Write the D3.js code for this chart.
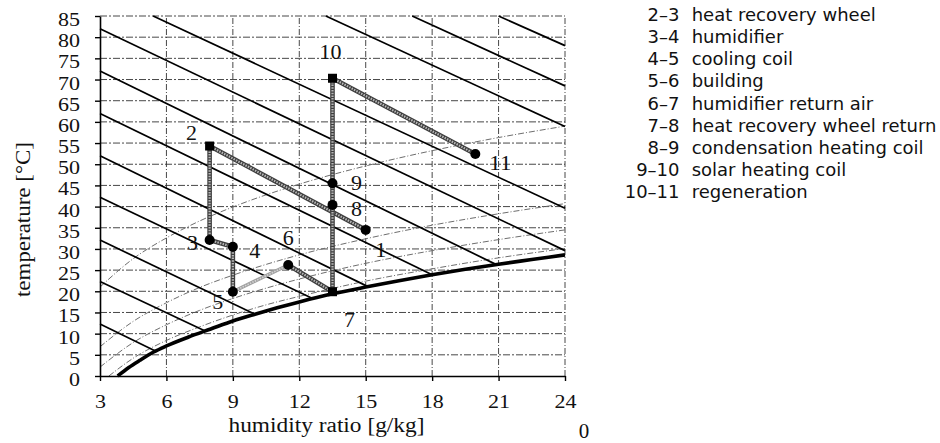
<html>
<head>
<meta charset="utf-8">
<title>Psychrometric chart</title>
<style type="text/css">
body { margin: 0; background: #ffffff; }
</style>
</head>
<body>
<div id="chart"></div>
<script src="https://d3js.org/d3.v7.min.js"></script>
<script>

// axis ticks
const xTicks = [3, 6, 9, 12, 15, 18, 21, 24];
const yTicks = [0, 5, 10, 15, 20, 25, 30, 35, 40, 45, 50, 55, 60, 65, 70, 75, 80, 85];

// saturation curve (humidity ratio g/kg, temperature C)
const satW = [3.8, 4.3, 4.8, 5.4, 6.0, 7.0, 8.0, 9.0, 10.0, 11.0, 12.0, 13.5, 15.0, 16.5, 18.0, 19.5, 21.0, 22.5, 24.0];
const satT = [0, 2.0, 3.7, 5.6, 7.1, 9.2, 11.1, 13.0, 14.6, 16.1, 17.5, 19.4, 21.0, 22.5, 23.9, 25.2, 26.4, 27.5, 28.6];

// relative humidity curves
const rh20W = [3, 4.5, 6, 7.5, 9, 12, 15, 18, 21, 24];
const rh20T = [21.0, 27.7, 32.6, 36.6, 39.9, 45.3, 49.6, 53.2, 56.3, 59.0];
const rh50W = [3, 4.5, 6, 7.5, 9, 12, 15, 18, 21, 24];
const rh50T = [6.9, 12.9, 17.3, 20.9, 23.8, 28.6, 32.4, 35.6, 38.3, 40.7];
const rh70W = [3, 4.5, 6, 7.5, 9, 12, 15, 18, 21, 24];
const rh70T = [2.1, 7.9, 12.1, 15.5, 18.3, 22.9, 26.6, 29.6, 32.2, 34.5];
const rh90W = [3.4, 4.5, 6, 7.5, 9, 10.5, 12, 15, 18, 21, 24];
const rh90T = [0, 4.2, 8.4, 11.6, 14.4, 16.8, 18.8, 22.4, 25.3, 27.9, 30.1];

// constant enthalpy lines (start / end points)
const enthW0 = [3, 3, 3, 3, 3, 3, 3, 3, 5.4, 13.2, 17.1, 21.0];
const enthT0 = [12.3, 22.3, 32.1, 42.2, 52.0, 62.0, 72.0, 82.0, 85, 85, 85, 85];
const enthW1 = [5.5, 7.75, 10.0, 12.6, 15.1, 18.0, 20.9, 24, 24, 24, 24, 24];
const enthT1 = [5.9, 10.6, 14.6, 18.3, 21.1, 23.9, 26.3, 29.6, 39.6, 58.9, 68.5, 78.0];

// state points of the cycle
const pointIds = ["1", "2", "3", "4", "5", "6", "7", "8", "9", "10", "11"];
const pointW = [15.0, 7.95, 7.95, 9.0, 9.0, 11.5, 13.5, 13.5, 13.5, 13.5, 19.95];
const pointT = [34.5, 54.3, 32.1, 30.5, 19.9, 26.2, 19.9, 40.4, 45.5, 70.3, 52.4];

// legend
const legendPairs = ["2–3", "3–4", "4–5", "5–6", "6–7", "7–8", "8–9", "9–10", "10–11"];
const legendNames = ["heat recovery wheel", "humidifier", "cooling coil", "building",
  "humidifier return air", "heat recovery wheel return", "condensation heating coil",
  "solar heating coil", "regeneration"];

// layout
const width = 940, height = 443;
const plot = {left: 100, right: 565, top: 16, bottom: 376};
const serif = '"Liberation Serif", "DejaVu Serif", serif';
const sans = '"DejaVu Sans", "Open Sans", sans-serif';

const svg = d3.select("#chart")
  .append("svg")
    .attr("width", width)
    .attr("height", height);

svg.append("rect")
  .attr("width", width)
  .attr("height", height)
  .attr("fill", "#fff");

const x = d3.scaleLinear().domain([3, 24]).range([plot.left, plot.right]);
const y = d3.scaleLinear().domain([0, 85]).range([plot.bottom, plot.top]);

// grid
svg.append("g")
  .selectAll("line")
  .data(xTicks.slice(1))
  .join("line")
    .attr("x1", d => x(d)).attr("x2", d => x(d))
    .attr("y1", y(0)).attr("y2", y(85))
    .attr("stroke", "#333").attr("stroke-width", 0.9)
    .attr("stroke-dasharray", "6,2,1,2");

svg.append("g")
  .selectAll("line")
  .data(yTicks.slice(1))
  .join("line")
    .attr("x1", x(3)).attr("x2", x(24))
    .attr("y1", d => y(d)).attr("y2", d => y(d))
    .attr("stroke", "#333").attr("stroke-width", 0.9)
    .attr("stroke-dasharray", "7,2,2,2");

// relative humidity curves
const curve = d3.line()
  .x(d => x(d[0]))
  .y(d => y(d[1]))
  .curve(d3.curveMonotoneX);

const rhCurves = [[rh20W, rh20T], [rh50W, rh50T], [rh70W, rh70T], [rh90W, rh90T]]
  .map(c => c[0].map((w, i) => [w, c[1][i]]));

svg.append("g")
  .selectAll("path")
  .data(rhCurves)
  .join("path")
    .attr("d", curve)
    .attr("fill", "none")
    .attr("stroke", "#6e6e6e")
    .attr("stroke-width", 1)
    .attr("stroke-dasharray", "6,2,1,2");

// enthalpy lines
svg.append("g")
  .selectAll("line")
  .data(enthW0)
  .join("line")
    .attr("x1", (d, i) => x(enthW0[i]))
    .attr("y1", (d, i) => y(enthT0[i]))
    .attr("x2", (d, i) => x(enthW1[i]))
    .attr("y2", (d, i) => y(enthT1[i]))
    .attr("stroke", "#000")
    .attr("stroke-width", 1.7);

// saturation curve
svg.append("path")
  .datum(satW.map((w, i) => [w, satT[i]]))
  .attr("d", curve)
  .attr("fill", "none")
  .attr("stroke", "#000")
  .attr("stroke-width", 3.6);

// axes
const yAxis = svg.append("g")
  .attr("transform", `translate(${plot.left},0)`)
  .call(d3.axisLeft(y).tickValues(yTicks).tickSize(5).tickPadding(15).tickSizeOuter(0));
const xAxis = svg.append("g")
  .attr("transform", `translate(0,${plot.bottom})`)
  .call(d3.axisBottom(x).tickValues(xTicks).tickSize(5).tickPadding(15).tickSizeOuter(0));

[xAxis, yAxis].forEach(a => {
  a.attr("font-family", null).attr("font-size", null);
  a.select(".domain").attr("stroke", "#000").attr("stroke-width", 1.6);
  a.selectAll(".tick line").attr("stroke", "#000").attr("stroke-width", 1.4);
  // the scanned labels are wider than a plain 19px serif, stretch them a little
  a.selectAll(".tick text")
    .style("font-family", serif)
    .style("font-size", "19px")
    .attr("textLength", d => String(d).length * 11)
    .attr("lengthAdjust", "spacingAndGlyphs")
    .attr("fill", "#111");
});
yAxis.selectAll(".tick text").attr("dy", "0.5em");
xAxis.selectAll(".tick text").attr("dy", "0.62em");

// axis titles
svg.append("text")
  .attr("x", 326.5)
  .attr("y", 431.5)
  .attr("text-anchor", "middle")
  .attr("textLength", 196)
  .attr("lengthAdjust", "spacingAndGlyphs")
  .style("font-family", serif)
  .style("font-size", "20px")
  .attr("fill", "#111")
  .text("humidity ratio [g/kg]");

svg.append("text")
  .attr("transform", "translate(30,219.5) rotate(-90)")
  .attr("text-anchor", "middle")
  .attr("textLength", 155)
  .attr("lengthAdjust", "spacingAndGlyphs")
  .style("font-family", serif)
  .style("font-size", "21px")
  .attr("fill", "#111")
  .text("temperature [°C]");

svg.append("text")
  .attr("x", 584)
  .attr("y", 438)
  .attr("text-anchor", "middle")
  .style("font-family", serif)
  .style("font-size", "21px")
  .attr("fill", "#111")
  .text("0");

// process lines
const px = id => x(pointW[pointIds.indexOf(id)]);
const py = id => y(pointT[pointIds.indexOf(id)]);
const segments = pointIds.slice(0, -1).map((id, i) => [id, pointIds[i + 1]]);

const segG = svg.append("g");
segments.forEach(s => {
  const light = s[0] === "5";
  segG.append("line")
    .attr("x1", px(s[0])).attr("y1", py(s[0]))
    .attr("x2", px(s[1])).attr("y2", py(s[1]))
    .attr("stroke", light ? "#a0a0a0" : "#3e3e3e")
    .attr("stroke-width", light ? 3.5 : 4.6);
  segG.append("line")
    .attr("x1", px(s[0])).attr("y1", py(s[0]))
    .attr("x2", px(s[1])).attr("y2", py(s[1]))
    .attr("stroke", light ? "#d4d4d4" : "#b8b8b8")
    .attr("stroke-width", light ? 1.6 : 2.2)
    .attr("stroke-dasharray", "1.5,1.2");
});

// markers
const squares = ["2", "7", "10"];
svg.append("g")
  .selectAll("circle")
  .data(pointIds.filter(id => !squares.includes(id)))
  .join("circle")
    .attr("cx", d => px(d))
    .attr("cy", d => py(d))
    .attr("r", 5)
    .attr("fill", "#000");
svg.append("g")
  .selectAll("rect")
  .data(squares)
  .join("rect")
    .attr("x", d => px(d) - 4.5)
    .attr("y", d => py(d) - 4.5)
    .attr("width", 9)
    .attr("height", 9)
    .attr("fill", "#000");

// point labels
const labelOffset = {"1": [15, 20], "2": [-18, -13], "3": [-17, 3], "4": [22, 4], "5": [-15, 10],
  "6": [0, -27], "7": [17, 28], "8": [24, 4], "9": [24, 0], "10": [-2, -26], "11": [25, 9]};
svg.append("g")
  .selectAll("text")
  .data(pointIds)
  .join("text")
    .attr("x", d => px(d) + labelOffset[d][0])
    .attr("y", d => py(d) + labelOffset[d][1])
    .attr("dy", "0.35em")
    .attr("text-anchor", "middle")
    .attr("textLength", d => d.length * 11)
    .attr("lengthAdjust", "spacingAndGlyphs")
    .style("font-family", serif)
    .style("font-size", "20px")
    .attr("fill", "#111")
    .text(d => d);

// legend
const legend = svg.append("g");
legend.selectAll("text.pair")
  .data(legendPairs)
  .join("text")
    .attr("class", "pair")
    .attr("x", 679.5)
    .attr("y", (d, i) => 20.7 + i * 22.2)
    .attr("text-anchor", "end")
    .style("font-family", sans)
    .style("font-size", "18px")
    .attr("fill", "#111")
    .text(d => d);
legend.selectAll("text.name")
  .data(legendNames)
  .join("text")
    .attr("class", "name")
    .attr("x", 691.7)
    .attr("y", (d, i) => 20.7 + i * 22.2)
    .style("font-family", sans)
    .style("font-size", "18px")
    .attr("fill", "#111")
    .text(d => d);

</script>
</body>
</html>
